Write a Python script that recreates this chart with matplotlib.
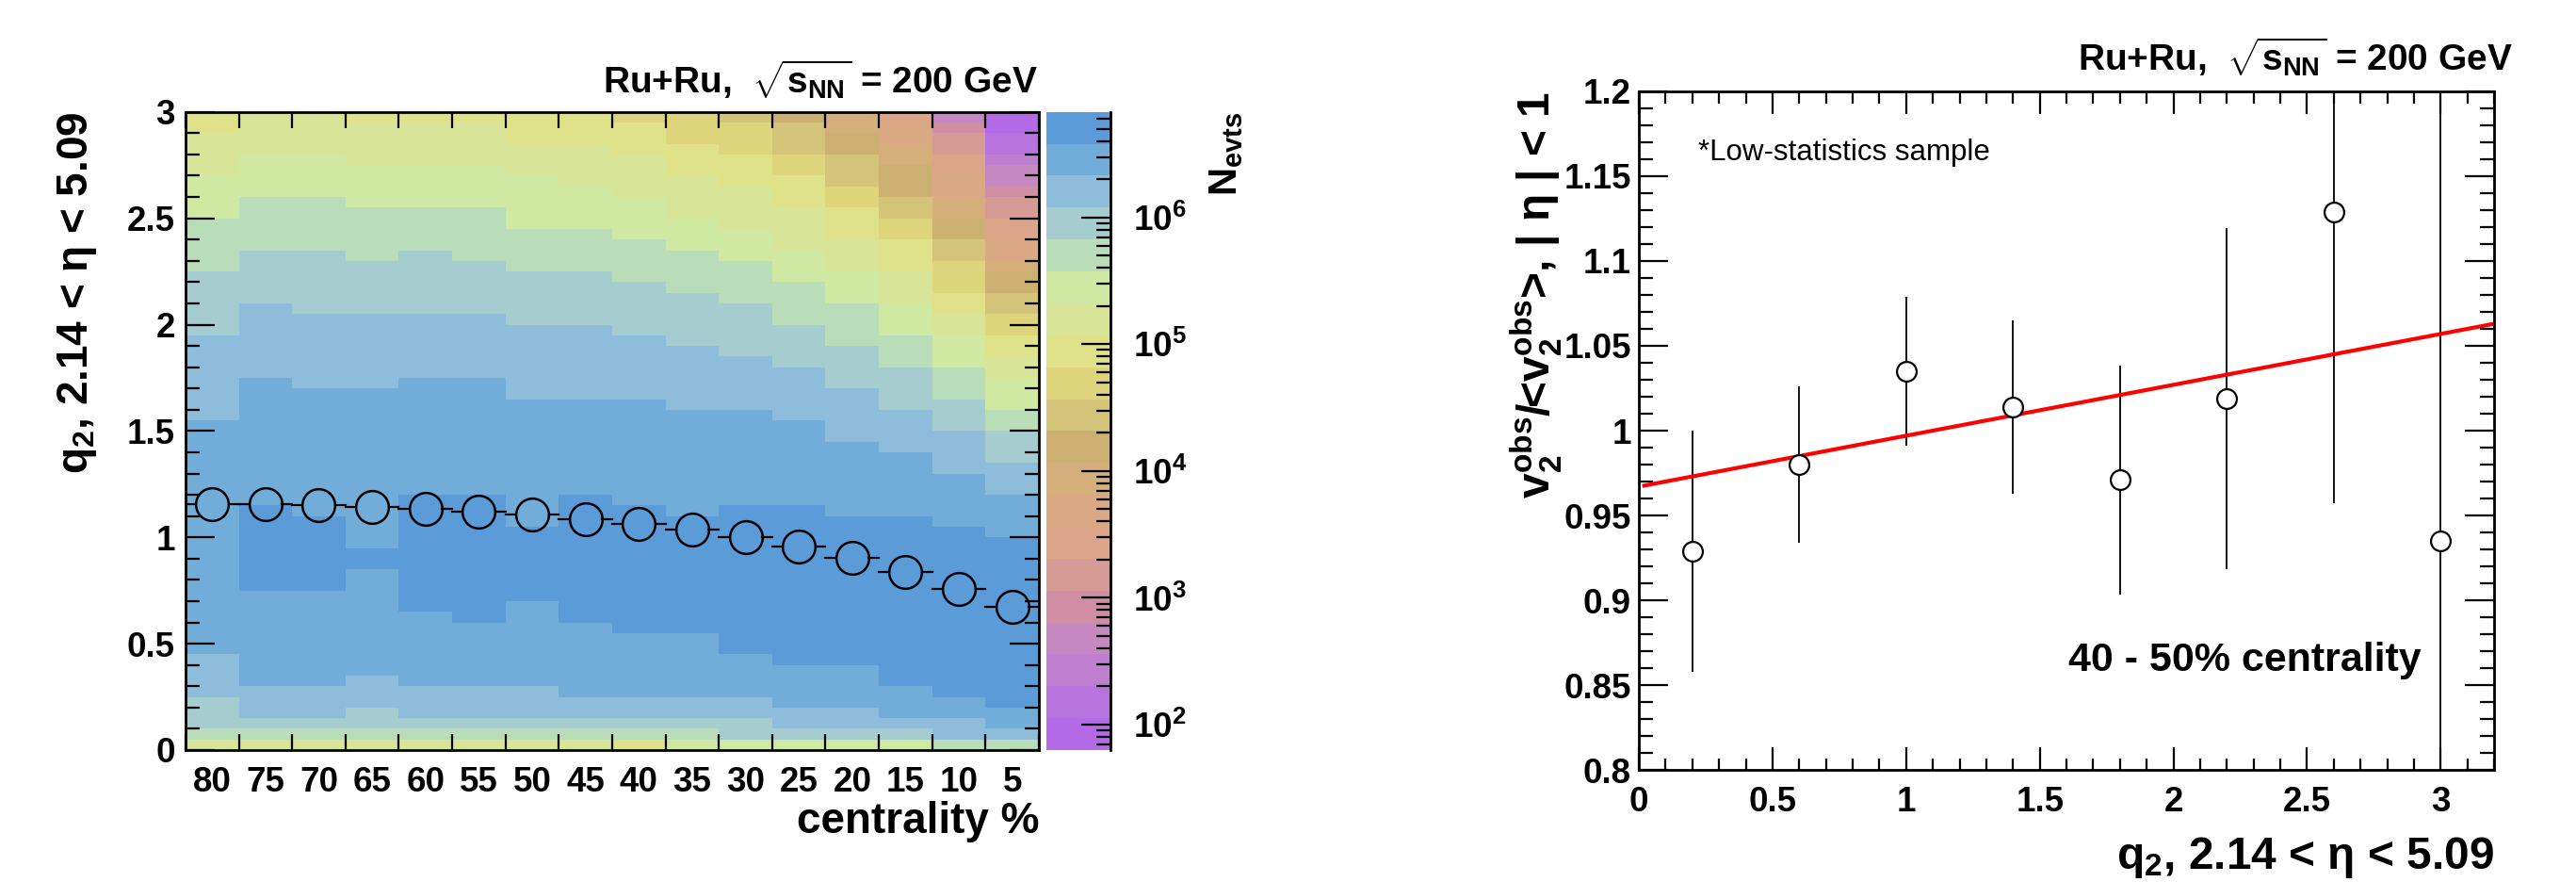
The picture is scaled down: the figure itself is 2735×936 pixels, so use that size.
import matplotlib
matplotlib.use("Agg")
import matplotlib.pyplot as plt
import numpy as np
from matplotlib.colors import ListedColormap, LogNorm
from matplotlib.ticker import LogLocator, MultipleLocator, NullFormatter, FixedLocator

plt.rcParams['font.family'] = ['Liberation Sans', 'DejaVu Sans']
plt.rcParams['font.weight'] = 'bold'
plt.rcParams['mathtext.fontset'] = 'custom'
plt.rcParams['mathtext.rm'] = 'Liberation Sans:bold'
plt.rcParams['mathtext.it'] = 'Liberation Sans:bold'
plt.rcParams['mathtext.bf'] = 'Liberation Sans:bold'
plt.rcParams['mathtext.sf'] = 'Liberation Sans:bold'

# ---- left panel data: N_evts map, q2 vs centrality ----
centrality = [80, 75, 70, 65, 60, 55, 50, 45, 40, 35, 30, 25, 20, 15, 10, 5]
q2_bin = 0.05          # q2 bin width, 60 bins from 0 to 3
# colour band of each q2 bin, run-length coded (band, n_bins), read top (q2=3) -> bottom (q2=0)
# band 0 = lowest N (purple) ... band 19 = highest N (blue)
band_runs = [
    [(12,2),(13,4),(14,4),(15,5),(16,6),(17,8),(18,22),(17,4),(16,3),(15,1),(13,1)],
    [(13,4),(14,4),(15,5),(16,5),(17,7),(18,12),(19,8),(18,9),(17,3),(16,1),(15,1),(13,1)],
    [(13,4),(14,4),(15,5),(16,6),(17,7),(18,12),(19,7),(18,9),(17,3),(16,1),(15,1),(13,1)],
    [(12,1),(13,4),(14,4),(15,5),(16,5),(17,7),(18,15),(19,2),(18,10),(17,3),(16,2),(15,1),(13,1)],
    [(12,1),(13,4),(14,4),(15,4),(16,6),(17,6),(18,11),(19,11),(18,7),(17,3),(16,1),(15,1),(13,1)],
    [(12,1),(13,4),(14,4),(15,5),(16,5),(17,6),(18,11),(19,12),(18,6),(17,3),(16,1),(15,1),(13,1)],
    [(12,3),(13,3),(14,5),(15,4),(16,5),(17,7),(18,12),(19,7),(18,8),(17,3),(16,1),(15,1),(13,1)],
    [(12,3),(13,4),(14,4),(15,4),(16,5),(17,7),(18,9),(19,12),(18,7),(17,2),(16,1),(15,1),(13,1)],
    [(11,1),(12,3),(13,4),(14,4),(15,4),(16,5),(17,6),(18,10),(19,12),(18,6),(17,2),(16,1),(15,1),(12,1)],
    [(11,3),(12,3),(13,4),(14,3),(15,4),(16,5),(17,6),(18,10),(19,11),(18,6),(17,2),(16,1),(15,1),(14,1)],
    [(10,1),(11,3),(12,3),(13,4),(14,3),(15,4),(16,5),(17,5),(18,9),(19,14),(18,4),(17,2),(16,2),(14,1)],
    [(9,1),(10,3),(11,2),(12,3),(13,4),(14,3),(15,4),(16,4),(17,5),(18,8),(19,15),(18,4),(17,2),(16,1),(14,1)],
    [(8,2),(9,2),(10,3),(11,2),(12,3),(13,3),(14,3),(15,4),(16,4),(17,5),(18,7),(19,14),(18,4),(17,2),(16,1),(14,1)],
    [(6,1),(7,2),(8,2),(9,3),(10,2),(11,2),(12,3),(13,3),(14,3),(15,3),(16,4),(17,4),(18,6),(19,16),(18,3),(17,1),(16,1),(14,1)],
    [(3,1),(4,1),(5,2),(6,2),(7,2),(8,2),(9,2),(10,2),(11,3),(12,2),(13,2),(14,3),(15,3),(16,3),(17,4),(18,5),(19,16),(18,2),(17,2),(15,1)],
    [(0,2),(1,2),(2,1),(3,2),(4,1),(5,2),(6,2),(7,2),(8,1),(9,2),(10,2),(11,2),(12,2),(13,2),(14,3),(15,2),(16,3),(17,3),(18,4),(19,16),(18,2),(17,1),(15,1)],
]
n_min, n_max = 63.0, 6.8e6
band_colors = ['#B469E6', '#B874DE', '#BF7FD0', '#C688C0', '#CF8EA3', '#D69B95',
               '#DCA58A', '#DAA983', '#D4AE7B', '#CBB071', '#D4C47A', '#DDD47B',
               '#E0E28A', '#D8E497', '#CFE8A2', '#B8DDB8', '#A5CDD0', '#8DBDDB',
               '#72ADD9', '#5B9BD8']
q2_mean = [1.157, 1.154, 1.150, 1.143, 1.134, 1.121, 1.106, 1.087,
           1.064, 1.036, 1.000, 0.956, 0.903, 0.835, 0.757, 0.675]

# ---- right panel data ----
q2_x = [0.2, 0.6, 1.0, 1.4, 1.8, 2.2, 2.6, 3.0]
v2_ratio = [0.929, 0.980, 1.035, 1.014, 0.971, 1.019, 1.129, 0.935]
v2_err = [0.071, 0.046, 0.044, 0.051, 0.0675, 0.1006, 0.172, 0.30]
fit_p0, fit_p1 = 0.967, 0.030
fit_range = (0.02, 3.19)

TICK = 26.5
TITLE = 33

# build the N_evts grid from the colour bands
nb = len(band_colors)
lmin, lmax = np.log10(n_min), np.log10(n_max)
cols = []
for runs in band_runs:
    b = np.concatenate([[lev] * n for lev, n in runs])[::-1]
    cols.append(10 ** (lmin + (b + 0.5) * (lmax - lmin) / nb))
N = np.array(cols).T
q2_edges = np.arange(N.shape[0] + 1) * q2_bin
cent = np.array(centrality, dtype=float)
cent_edges = np.append(cent + 2.5, cent[-1] - 2.5)

fig = plt.figure(figsize=(27.35, 9.36), dpi=100)

# ================= left panel =================
ax = fig.add_axes([0.0720, 0.1496, 0.3313, 0.7235])
cmap = ListedColormap(band_colors)
norm = LogNorm(vmin=n_min, vmax=n_max)
mesh = ax.pcolormesh(cent_edges, q2_edges, N, cmap=cmap, norm=norm, shading='flat')
ax.set_xlim(cent_edges[0], cent_edges[-1])
ax.set_ylim(0, 3)

r = 1.55  # marker radius in centrality units
for c, m in zip(cent, q2_mean):
    ax.plot([c + 2.5, c + r], [m, m], color='black', lw=1.6, zorder=3)
    ax.plot([c - r, c - 2.5], [m, m], color='black', lw=1.6, zorder=3)
ax.plot(cent, q2_mean, 'o', ms=25, mfc='none', mec='black', mew=1.8, zorder=4)

ax.xaxis.set_major_locator(FixedLocator(cent_edges))
ax.xaxis.set_major_formatter(NullFormatter())
ax.xaxis.set_minor_locator(FixedLocator(cent))
ax.set_xticklabels([str(c) for c in centrality], minor=True)
ax.tick_params(axis='x', which='major', direction='in', top=True, bottom=True,
               length=12, width=1.6)
ax.tick_params(axis='x', which='minor', length=0, labelsize=TICK, pad=12)
ax.yaxis.set_major_locator(MultipleLocator(0.5))
ax.yaxis.set_minor_locator(MultipleLocator(0.1))
ax.yaxis.set_major_formatter(plt.FuncFormatter(lambda v, p: f"{v:g}"))
ax.tick_params(axis='y', which='major', direction='in', left=True, right=True,
               length=22, width=1.6, labelsize=TICK, pad=8)
ax.tick_params(axis='y', which='minor', direction='in', left=True, right=True,
               length=11, width=1.6)
for s in ax.spines.values():
    s.set_linewidth(2)

fig.text(0.0300, 0.8731, r"q$_2$, 2.14 < η < 5.09", rotation=90, ha='center',
         va='top', fontsize=TITLE, fontweight='bold')
fig.text(0.4033, 0.056, "centrality %", ha='right', va='baseline', fontsize=TITLE,
         fontweight='bold')
fig.text(0.4029, 0.894, r"Ru+Ru,  $\sqrt{s_{NN}}$ = 200 GeV", ha='right',
         va='baseline', fontsize=28, fontweight='bold')

# colorbar
cax = fig.add_axes([0.4062, 0.1496, 0.0249, 0.7235])
cb = fig.colorbar(mesh, cax=cax)
cb.outline.set_visible(False)
cax.spines['right'].set_visible(True)
cax.spines['right'].set_linewidth(2)
cax.yaxis.set_major_locator(LogLocator(base=10, numticks=20))
cax.yaxis.set_minor_locator(LogLocator(base=10, subs=np.arange(2, 10), numticks=20))
cax.yaxis.set_minor_formatter(NullFormatter())
cax.tick_params(which='major', direction='in', length=22, width=1.6, labelsize=TICK, pad=17)
cax.tick_params(which='minor', direction='in', length=11, width=1.6)
fig.text(0.4760, 0.8731, r"N$_{evts}$", rotation=90, ha='center', va='top',
         fontsize=30, fontweight='bold')

# ================= right panel =================
ax2 = fig.add_axes([0.6362, 0.1271, 0.3320, 0.7693])
ax2.errorbar(q2_x, v2_ratio, yerr=v2_err, fmt='none', ecolor='black', elinewidth=1.3,
             capsize=0, zorder=2)
xf = np.array(fit_range)
ax2.plot(xf, fit_p0 + fit_p1 * xf, color='#FF0000', lw=3, zorder=3)
ax2.plot(q2_x, v2_ratio, 'o', ms=15, mfc='white', mec='black', mew=1.6, zorder=4)
ax2.set_xlim(0, 3.2)
ax2.set_ylim(0.8, 1.2)
ax2.xaxis.set_major_locator(MultipleLocator(0.5))
ax2.xaxis.set_minor_locator(MultipleLocator(0.1))
ax2.yaxis.set_major_locator(MultipleLocator(0.05))
ax2.yaxis.set_minor_locator(MultipleLocator(0.01))
fmt = plt.FuncFormatter(lambda v, p: f"{v:.2f}".rstrip('0').rstrip('.'))
ax2.xaxis.set_major_formatter(fmt)
ax2.yaxis.set_major_formatter(fmt)
ax2.tick_params(axis='x', which='major', direction='in', top=True, bottom=True,
                length=17, width=1.6, labelsize=TICK, pad=12)
ax2.tick_params(axis='x', which='minor', direction='in', top=True, bottom=True,
                length=9, width=1.6)
ax2.tick_params(axis='y', which='major', direction='in', left=True, right=True,
                length=22, width=1.6, labelsize=TICK, pad=6)
ax2.tick_params(axis='y', which='minor', direction='in', left=True, right=True,
                length=11, width=1.6)
for s in ax2.spines.values():
    s.set_linewidth(2)

fig.text(0.5965, 0.8964, r"v$_2^{obs}$/<v$_2^{obs}$>, | η | < 1", rotation=90,
         ha='center', va='top', fontsize=34.5, fontweight='bold')
fig.text(0.9682, 0.015, r"q$_2$, 2.14 < η < 5.09", ha='right', va='baseline',
         fontsize=34.5, fontweight='bold')
fig.text(0.9755, 0.920, r"Ru+Ru,  $\sqrt{s_{NN}}$ = 200 GeV", ha='right',
         va='baseline', fontsize=28, fontweight='bold')
fig.text(0.6592, 0.818, "*Low-statistics sample", ha='left', va='baseline',
         fontsize=22.5, fontweight='normal')
fig.text(0.9400, 0.2393, "40 - 50% centrality", ha='right', va='baseline',
         fontsize=31, fontweight='bold')

fig.savefig("out.png", dpi=100)
